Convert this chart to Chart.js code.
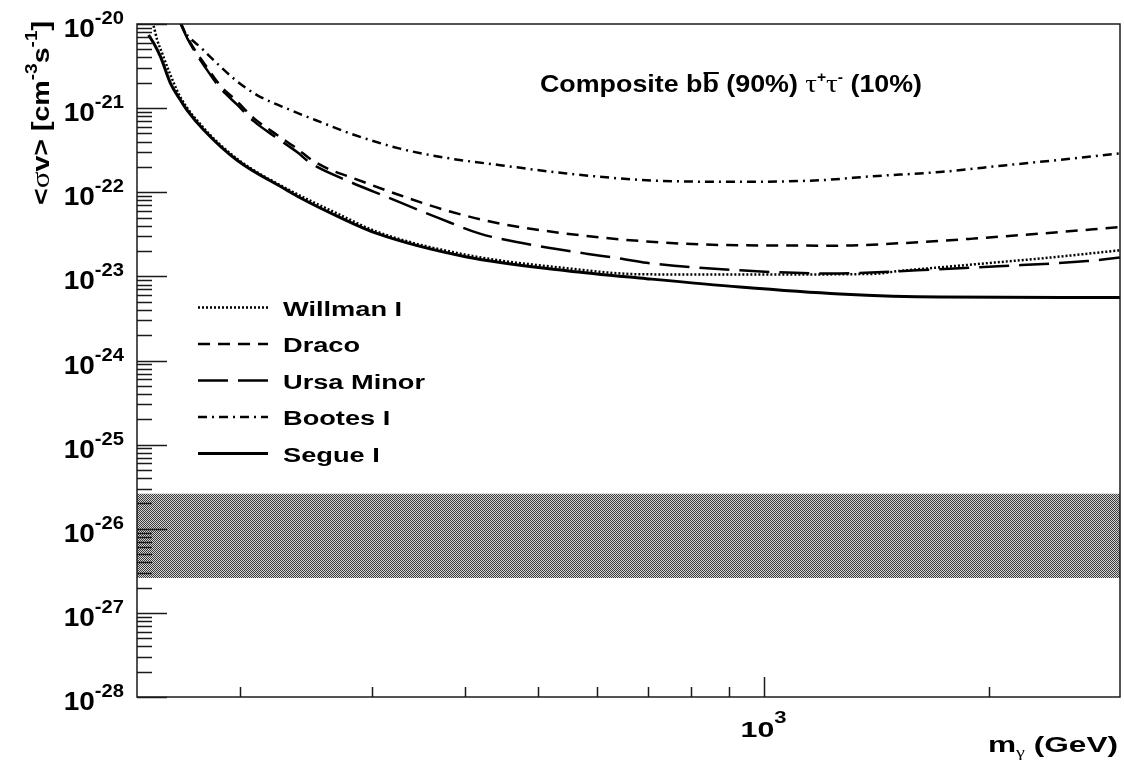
<!DOCTYPE html>
<html>
<head>
<meta charset="utf-8">
<script src="https://cdn.jsdelivr.net/npm/chart.js@4.4.1/dist/chart.umd.min.js"></script>
<style>
  html, body { margin: 0; padding: 0; background: #fff; }
  #wrap { width: 1124px; height: 763px; }
</style>
</head>
<body>
<div id="wrap"><canvas id="limits" width="1124" height="763"></canvas></div>
<script>
// m_gamma (GeV) and <sigma v> (cm^3 s^-1)
const willmanMass  = [150, 153.4, 155, 157.4, 160.6, 166.5, 178.9, 198.2, 231, 269.6, 304.5, 401.6, 546, 684, 930, 1400, 1520, 1720, 2069, 2340, 2992];
const willmanSigma = [1.4e-20, 9.3e-21, 6.5e-21, 4.5e-21, 2.8e-21, 1.35e-21, 5.8e-22, 2.5e-22, 1.1e-22, 5.6e-23, 3.4e-23, 1.8e-23, 1.25e-23, 1.06e-23, 1.05e-23, 1.07e-23, 1.16e-23, 1.28e-23, 1.48e-23, 1.63e-23, 2.04e-23];

const dracoMass  = [166.5, 170, 182.5, 188.3, 198.2, 208.6, 224.1, 238.3, 248, 264, 280.5, 327, 381.5, 445, 546, 698, 930, 1265, 1553, 1904, 2340, 2992];
const dracoSigma = [1.05e-20, 7.0e-21, 2.7e-21, 1.85e-21, 1.2e-21, 7.6e-22, 4.8e-22, 3.3e-22, 2.5e-22, 1.85e-22, 1.52e-22, 9.2e-23, 5.9e-23, 4.24e-23, 3.22e-23, 2.6e-23, 2.34e-23, 2.32e-23, 2.5e-23, 2.81e-23, 3.22e-23, 3.86e-23];

const ursaMass  = [166.5, 170, 182.5, 188.3, 198.2, 208.6, 224.1, 238.3, 248, 280.5, 314, 370, 418, 468, 524, 580, 643, 698, 930, 1227, 1603, 2056, 2703, 2992];
const ursaSigma = [1.02e-20, 6.8e-21, 2.5e-21, 1.72e-21, 1.1e-21, 7.0e-22, 4.4e-22, 3.0e-22, 2.25e-22, 1.33e-22, 8.8e-23, 4.86e-23, 3.22e-23, 2.56e-23, 2.14e-23, 1.86e-23, 1.63e-23, 1.45e-23, 1.18e-23, 1.08e-23, 1.18e-23, 1.32e-23, 1.52e-23, 1.68e-23];

const bootesMass  = [166.5, 168.2, 177.9, 183.4, 197.2, 210.7, 233.4, 258.7, 280.5, 327, 381.5, 445, 546, 698, 930, 1190, 1400, 1720, 2112, 2590, 2992];
const bootesSigma = [1.05e-20, 8.5e-21, 5.1e-21, 3.9e-21, 2.16e-21, 1.43e-21, 9.5e-22, 6.6e-22, 5.0e-22, 3.3e-22, 2.52e-22, 2.1e-22, 1.67e-22, 1.39e-22, 1.33e-22, 1.39e-22, 1.55e-22, 1.74e-22, 2.1e-22, 2.52e-22, 2.89e-22];

const segueMass  = [151, 153.4, 156.6, 161.5, 166.5, 169.9, 178.9, 198.2, 231, 240.6, 269.6, 304.5, 401.6, 546, 698, 930, 1265, 1720, 2992];
const segueSigma = [7.4e-21, 5.9e-21, 4.1e-21, 1.97e-21, 1.25e-21, 9.5e-22, 5.5e-22, 2.4e-22, 1.06e-22, 8.6e-23, 5.2e-23, 3.24e-23, 1.7e-23, 1.17e-23, 9.4e-24, 7.46e-24, 6.17e-24, 5.67e-24, 5.6e-24];

// thermal relic band
const bandMass  = [145.7, 2992];
const bandUpper = [2.6e-26, 2.6e-26];
const bandLower = [2.6e-27, 2.6e-27];

// axes
const massRange  = [145.7, 2992];
const sigmaRange = [1e-28, 1e-20];
const yTickPowers = [-20, -21, -22, -23, -24, -25, -26, -27, -28];
const xTickPowers = [3];
const xMinorTicks = [200, 300, 400, 500, 600, 700, 800, 900, 2000];

const legendLabels = ['Willman I', 'Draco', 'Ursa Minor', 'Bootes I', 'Segue I'];

function toPoints(xs, ys) {
  return xs.map((x, i) => ({ x: x, y: ys[i] }));
}

const canvas = document.getElementById('limits');

// grey dithered fill like the ROOT hatch
function halftone() {
  const c = document.createElement('canvas');
  c.width = 2; c.height = 2;
  const g = c.getContext('2d');
  g.fillStyle = '#d4d4d4';
  g.fillRect(0, 0, 2, 2);
  g.fillStyle = '#3a3a3a';
  g.fillRect(0, 0, 1, 1);
  g.fillRect(1, 1, 1, 1);
  return canvas.getContext('2d').createPattern(c, 'repeat');
}

const BOLD = '"Liberation Sans", Arial, Helvetica, sans-serif';
const SERIF = '"Liberation Serif", "DejaVu Serif", serif';

// draw a row of text pieces, optionally squeezed/stretched to a given width
function drawRuns(ctx, runs, x, y, opts) {
  let w = 0;
  runs.forEach(r => { ctx.font = r.font; r.w = ctx.measureText(r.t).width; w += r.w; });
  const sx = opts.width ? opts.width / w : (opts.stretch || 1);
  ctx.save();
  ctx.translate(x, y);
  if (opts.rotate) ctx.rotate(opts.rotate);
  ctx.scale(sx, 1);
  let cx = 0;
  if (opts.align === 'right') cx = -w;
  if (opts.align === 'center') cx = -w / 2;
  ctx.textAlign = 'left';
  ctx.textBaseline = 'alphabetic';
  ctx.fillStyle = '#000';
  runs.forEach(r => {
    ctx.font = r.font;
    ctx.fillText(r.t, cx, r.dy || 0);
    if (r.over) ctx.fillRect(cx + 1, (r.dy || 0) - r.over, r.w - 1, 2);
    cx += r.w;
  });
  ctx.restore();
}

const rootFrame = {
  id: 'rootFrame',
  afterDatasetsDraw(chart) {
    const ctx = chart.ctx;
    const a = chart.chartArea;
    const xs = chart.scales.x;
    const ys = chart.scales.y;

    ctx.save();
    ctx.strokeStyle = '#1a1a1a';
    ctx.lineWidth = 1.5;
    ctx.strokeRect(a.left, a.top, a.right - a.left, a.bottom - a.top);

    ctx.beginPath();
    yTickPowers.forEach(p => {
      const yy = Math.round(ys.getPixelForValue(Math.pow(10, p))) + 0.5;
      ctx.moveTo(a.left, yy); ctx.lineTo(a.left + 30, yy);
      if (p < -20) {
        for (let k = 2; k <= 9; k++) {
          const ym = Math.round(ys.getPixelForValue(k * Math.pow(10, p))) + 0.5;
          ctx.moveTo(a.left, ym); ctx.lineTo(a.left + 15, ym);
        }
      }
    });
    xMinorTicks.forEach(m => {
      const xx = Math.round(xs.getPixelForValue(m)) + 0.5;
      ctx.moveTo(xx, a.bottom); ctx.lineTo(xx, a.bottom - 10);
    });
    xTickPowers.forEach(p => {
      const xx = Math.round(xs.getPixelForValue(Math.pow(10, p))) + 0.5;
      ctx.moveTo(xx, a.bottom); ctx.lineTo(xx, a.bottom - 20);
    });
    ctx.stroke();
    ctx.restore();

    // y tick labels
    yTickPowers.forEach(p => {
      const yy = ys.getPixelForValue(Math.pow(10, p));
      drawRuns(ctx, [
        { t: '10', font: 'bold 25px ' + BOLD, dy: 13 },
        { t: String(p), font: 'bold 18px ' + BOLD, dy: 0 }
      ], 124, yy, { align: 'right', stretch: 1.12 });
    });

    // x tick labels
    xTickPowers.forEach(p => {
      const xx = xs.getPixelForValue(Math.pow(10, p));
      drawRuns(ctx, [
        { t: '10', font: 'bold 22px ' + BOLD, dy: 0 },
        { t: String(p), font: 'bold 16px ' + BOLD, dy: -14 }
      ], xx, 737, { align: 'center', width: 46 });
    });

    // axis titles
    drawRuns(ctx, [
      { t: 'm', font: 'bold 22px ' + BOLD, dy: 0 },
      { t: '\u03b3', font: '14px ' + SERIF, dy: 5 },
      { t: ' (GeV)', font: 'bold 22px ' + BOLD, dy: 0 }
    ], 1118, 752, { align: 'right', width: 130 });

    drawRuns(ctx, [
      { t: '<', font: 'bold 24px ' + BOLD, dy: 0 },
      { t: '\u03c3', font: '26px ' + SERIF, dy: 0 },
      { t: 'v> [cm', font: 'bold 24px ' + BOLD, dy: 0 },
      { t: '-3', font: 'bold 16px ' + BOLD, dy: -12 },
      { t: 's', font: 'bold 24px ' + BOLD, dy: 0 },
      { t: '-1', font: 'bold 16px ' + BOLD, dy: -12 },
      { t: ']', font: 'bold 24px ' + BOLD, dy: 0 }
    ], 49, 205, { rotate: -Math.PI / 2, width: 184 });

    // header text
    drawRuns(ctx, [
      { t: 'Composite b', font: 'bold 24px ' + BOLD },
      { t: 'b', font: 'bold 24px ' + BOLD, over: 20 },
      { t: ' (90%) ', font: 'bold 24px ' + BOLD },
      { t: '\u03c4', font: '26px ' + SERIF },
      { t: '+', font: 'bold 14px ' + BOLD, dy: -10 },
      { t: '\u03c4', font: '26px ' + SERIF },
      { t: '-', font: 'bold 14px ' + BOLD, dy: -10 },
      { t: ' (10%)', font: 'bold 24px ' + BOLD }
    ], 540, 92, { width: 382 });

    // legend
    const curves = chart.data.datasets.filter(d => legendLabels.indexOf(d.label) >= 0);
    curves.forEach((d, i) => {
      const ly = 307.5 + 36.5 * i;
      ctx.save();
      ctx.strokeStyle = d.borderColor;
      ctx.lineWidth = d.borderWidth;
      ctx.setLineDash(d.borderDash || []);
      ctx.beginPath();
      ctx.moveTo(198, ly); ctx.lineTo(268, ly);
      ctx.stroke();
      ctx.restore();
      drawRuns(ctx, [{ t: d.label, font: 'bold 20px ' + BOLD }], 283, ly + 8, { stretch: 1.36 });
    });
  }
};

function curve(label, xs, ys, dash, width) {
  return {
    label: label,
    data: toPoints(xs, ys),
    borderColor: '#000',
    borderWidth: width,
    borderDash: dash,
    pointRadius: 0,
    fill: false,
    cubicInterpolationMode: 'monotone',
    clip: 0
  };
}

const pattern = halftone();

new Chart(canvas, {
  type: 'line',
  data: {
    datasets: [
      curve('Willman I', willmanMass, willmanSigma, [2, 2], 2.5),
      curve('Draco', dracoMass, dracoSigma, [12, 8], 2.5),
      curve('Ursa Minor', ursaMass, ursaSigma, [30, 10], 2.5),
      curve('Bootes I', bootesMass, bootesSigma, [9, 5, 2, 5], 2.5),
      curve('Segue I', segueMass, segueSigma, [], 3),
      {
        label: 'band upper',
        data: toPoints(bandMass, bandUpper),
        borderWidth: 0,
        pointRadius: 0,
        backgroundColor: pattern,
        fill: '+1',
        clip: 0
      },
      {
        label: 'band lower',
        data: toPoints(bandMass, bandLower),
        borderWidth: 0,
        pointRadius: 0,
        fill: false,
        clip: 0
      }
    ]
  },
  options: {
    responsive: false,
    animation: false,
    events: [],
    layout: { padding: { left: 137, top: 24, right: 4, bottom: 66 } },
    plugins: {
      legend: { display: false },
      tooltip: { enabled: false },
      title: { display: false }
    },
    scales: {
      x: { type: 'logarithmic', min: massRange[0], max: massRange[1], display: false },
      y: { type: 'logarithmic', min: sigmaRange[0], max: sigmaRange[1], display: false }
    }
  },
  plugins: [rootFrame]
});
</script>
</body>
</html>
